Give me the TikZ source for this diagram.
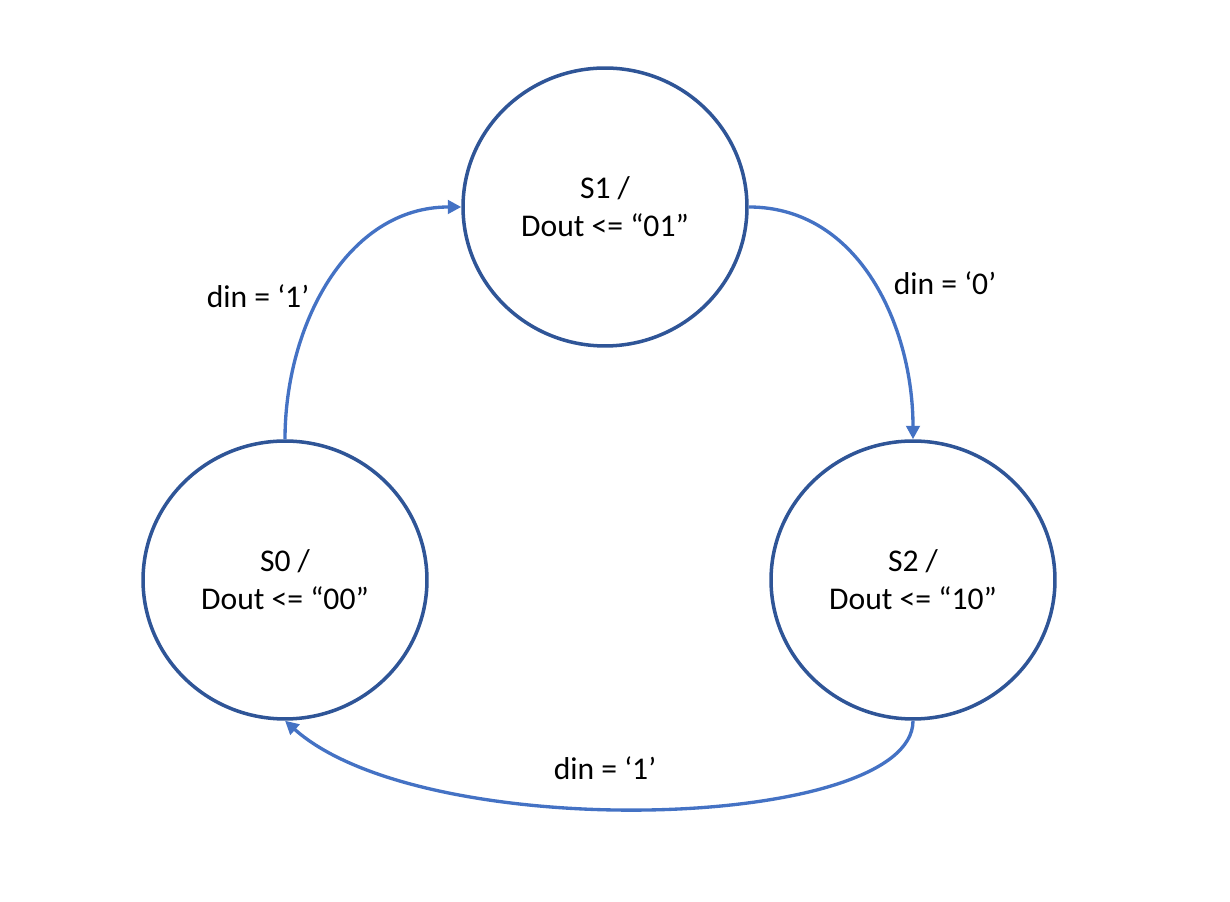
\documentclass[tikz,border=0pt]{standalone}
\usepackage{fontspec}
\setmainfont{Carlito}
\usetikzlibrary{arrows.meta,shapes.geometric}
\definecolor{ringblue}{HTML}{2F5597}
\definecolor{edgeblue}{HTML}{4472C4}
\tikzset{
  stnode/.style={ellipse, draw=ringblue, line width=2pt, minimum width=5.68cm, minimum height=5.56cm, align=center, font=\fontsize{18}{21.5}\selectfont},
  trans/.style={draw=edgeblue, line width=1.9pt, -{Triangle[length=0.27cm,width=0.27cm]}},
  lbl/.style={font=\fontsize{18}{21.5}\selectfont}
}
\begin{document}
\begin{tikzpicture}[x=0.02cm,y=0.02cm]
  \useasboundingbox (0,0) rectangle (1230,902);
  % states
  \node[stnode] (s1) at (605,695) {S1 /\\Dout <= “01”};
  \node[stnode] (s0) at (285,322) {S0 /\\Dout <= “00”};
  \node[stnode] (s2) at (913,322) {S2 /\\Dout <= “10”};
  % transitions
  \draw[trans] (s0.north) to[out=90,in=180] (s1.west);
  \draw[trans] (s1.east) to[out=0,in=90] (s2.north);
  \draw[trans] (s2.south) .. controls +(0,-110) and +(140,-125) .. (s0.south);
  % labels
  \node[lbl] (l01) at (258,606) {din = ‘1’};
  \node[lbl] (l12) at (945,619) {din = ‘0’};
  \node[lbl] (l20) at (605,134) {din = ‘1’};
\end{tikzpicture}
\end{document}
